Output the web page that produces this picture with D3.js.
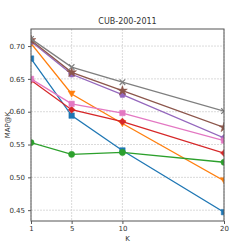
<!DOCTYPE html>
<html>
<head>
<meta charset="utf-8">
<script src="https://cdn.jsdelivr.net/npm/d3@7"></script>
<style>
  body { margin: 0; background: #fff; }
  svg text { font-family: "DejaVu Sans", sans-serif; fill: #333; }
</style>
</head>
<body>
<svg id="chart" width="249" height="249"></svg>
<script>
// K values and MAP@K per method
const ks = [1, 5, 10, 20];
const blue   = [0.681, 0.594, 0.541, 0.447];
const orange = [0.704, 0.627, 0.582, 0.495];
const green  = [0.553, 0.535, 0.538, 0.523];
const red    = [0.648, 0.603, 0.585, 0.537];
const purple = [0.707, 0.657, 0.626, 0.560];
const brown  = [0.709, 0.660, 0.632, 0.576];
const pink   = [0.650, 0.612, 0.598, 0.556];
const gray   = [0.711, 0.668, 0.645, 0.601];
const yTicks = [0.45, 0.50, 0.55, 0.60, 0.65, 0.70];

const series = [
    { vals: blue,   color: "#1f77b4", sym: d3.symbolSquare },
    { vals: orange, color: "#ff7f0e", sym: "tridown" },
    { vals: green,  color: "#2ca02c", sym: d3.symbolCircle },
    { vals: red,    color: "#d62728", sym: d3.symbolDiamond2 },
    { vals: purple, color: "#9467bd", sym: "pentagon" },
    { vals: brown,  color: "#8c564b", sym: d3.symbolStar },
    { vals: pink,   color: "#e377c2", sym: d3.symbolSquare },
    { vals: gray,   color: "#7f7f7f", sym: d3.symbolX }
];

const mLeft = 31, mRight = 224, mTop = 29, mBottom = 221;
const svg = d3.select("#chart");

let x = d3.scaleLinear().domain([1, 20]).range([mLeft, mRight]);
let y = d3.scaleLinear().domain([0.4335, 0.726]).range([mBottom, mTop]);

// grid
let grid = svg.append("g").attr("stroke", "#d0d0d0").attr("stroke-dasharray", "2,1").attr("stroke-width", 0.8);
grid.selectAll("line.gx").data(ks).enter().append("line")
    .attr("x1", d => x(d)).attr("x2", d => x(d)).attr("y1", mTop).attr("y2", mBottom);
grid.selectAll("line.gy").data(yTicks).enter().append("line")
    .attr("y1", d => y(d)).attr("y2", d => y(d)).attr("x1", mLeft).attr("x2", mRight);

svg.append("clipPath").attr("id", "clip")
    .append("rect").attr("x", mLeft).attr("y", mTop).attr("width", mRight - mLeft).attr("height", mBottom - mTop);

let plot = svg.append("g").attr("clip-path", "url(#clip)");

let lineMaker = d3.line()
    .x((d, i) => x(ks[i]))
    .y(d => y(d));

function markerPath(sym) {
    if (sym === "tridown") return "M-3.5,-3L3.5,-3L0,3.2Z";
    if (sym === "pentagon") {
        let pts = d3.range(5).map(i => {
            let a = -Math.PI / 2 + i * 2 * Math.PI / 5;
            return [3.4 * Math.cos(a), 3.4 * Math.sin(a)];
        });
        return "M" + pts.join("L") + "Z";
    }
    return d3.symbol().type(sym).size(sym === d3.symbolX ? 22 : 30)();
}

series.forEach(s => {
    let g = plot.append("g");
    g.append("path")
        .attr("fill", "none").attr("stroke", s.color).attr("stroke-width", 1.3)
        .attr("d", lineMaker(s.vals));
    g.selectAll("path.m").data(s.vals).enter().append("path")
        .attr("transform", (d, i) => "translate(" + x(ks[i]) + "," + y(d) + ")")
        .attr("d", markerPath(s.sym))
        .attr("fill", s.sym === d3.symbolX ? "none" : s.color)
        .attr("stroke", s.color).attr("stroke-width", s.sym === d3.symbolX ? 1.2 : 0.5);
});

// frame
svg.append("rect").attr("x", mLeft).attr("y", mTop).attr("width", mRight - mLeft).attr("height", mBottom - mTop)
    .attr("fill", "none").attr("stroke", "#555").attr("stroke-width", 1);

let xAxis = svg.append("g").attr("transform", "translate(0," + mBottom + ")")
    .call(d3.axisBottom(x).tickValues(ks).tickSize(3).tickPadding(2).tickFormat(d3.format("d")));
let yAxis = svg.append("g").attr("transform", "translate(" + mLeft + ",0)")
    .call(d3.axisLeft(y).tickValues(yTicks).tickSize(3).tickPadding(3).tickFormat(d3.format(".2f")));
[xAxis, yAxis].forEach(a => {
    a.select(".domain").remove();
    a.selectAll("line").attr("stroke", "#555");
    a.selectAll("text").attr("font-size", 7).attr("fill", "#333");
});

svg.append("text").attr("x", (mLeft + mRight) / 2).attr("y", 24).attr("text-anchor", "middle")
    .attr("font-size", 8).text("CUB-200-2011");
svg.append("text").attr("x", (mLeft + mRight) / 2).attr("y", 241).attr("text-anchor", "middle")
    .attr("font-size", 7).text("K");
svg.append("text").attr("transform", "translate(10," + (mTop + mBottom) / 2 + ") rotate(-90)")
    .attr("text-anchor", "middle").attr("font-size", 7).text("MAP@K");
</script>
</body>
</html>
